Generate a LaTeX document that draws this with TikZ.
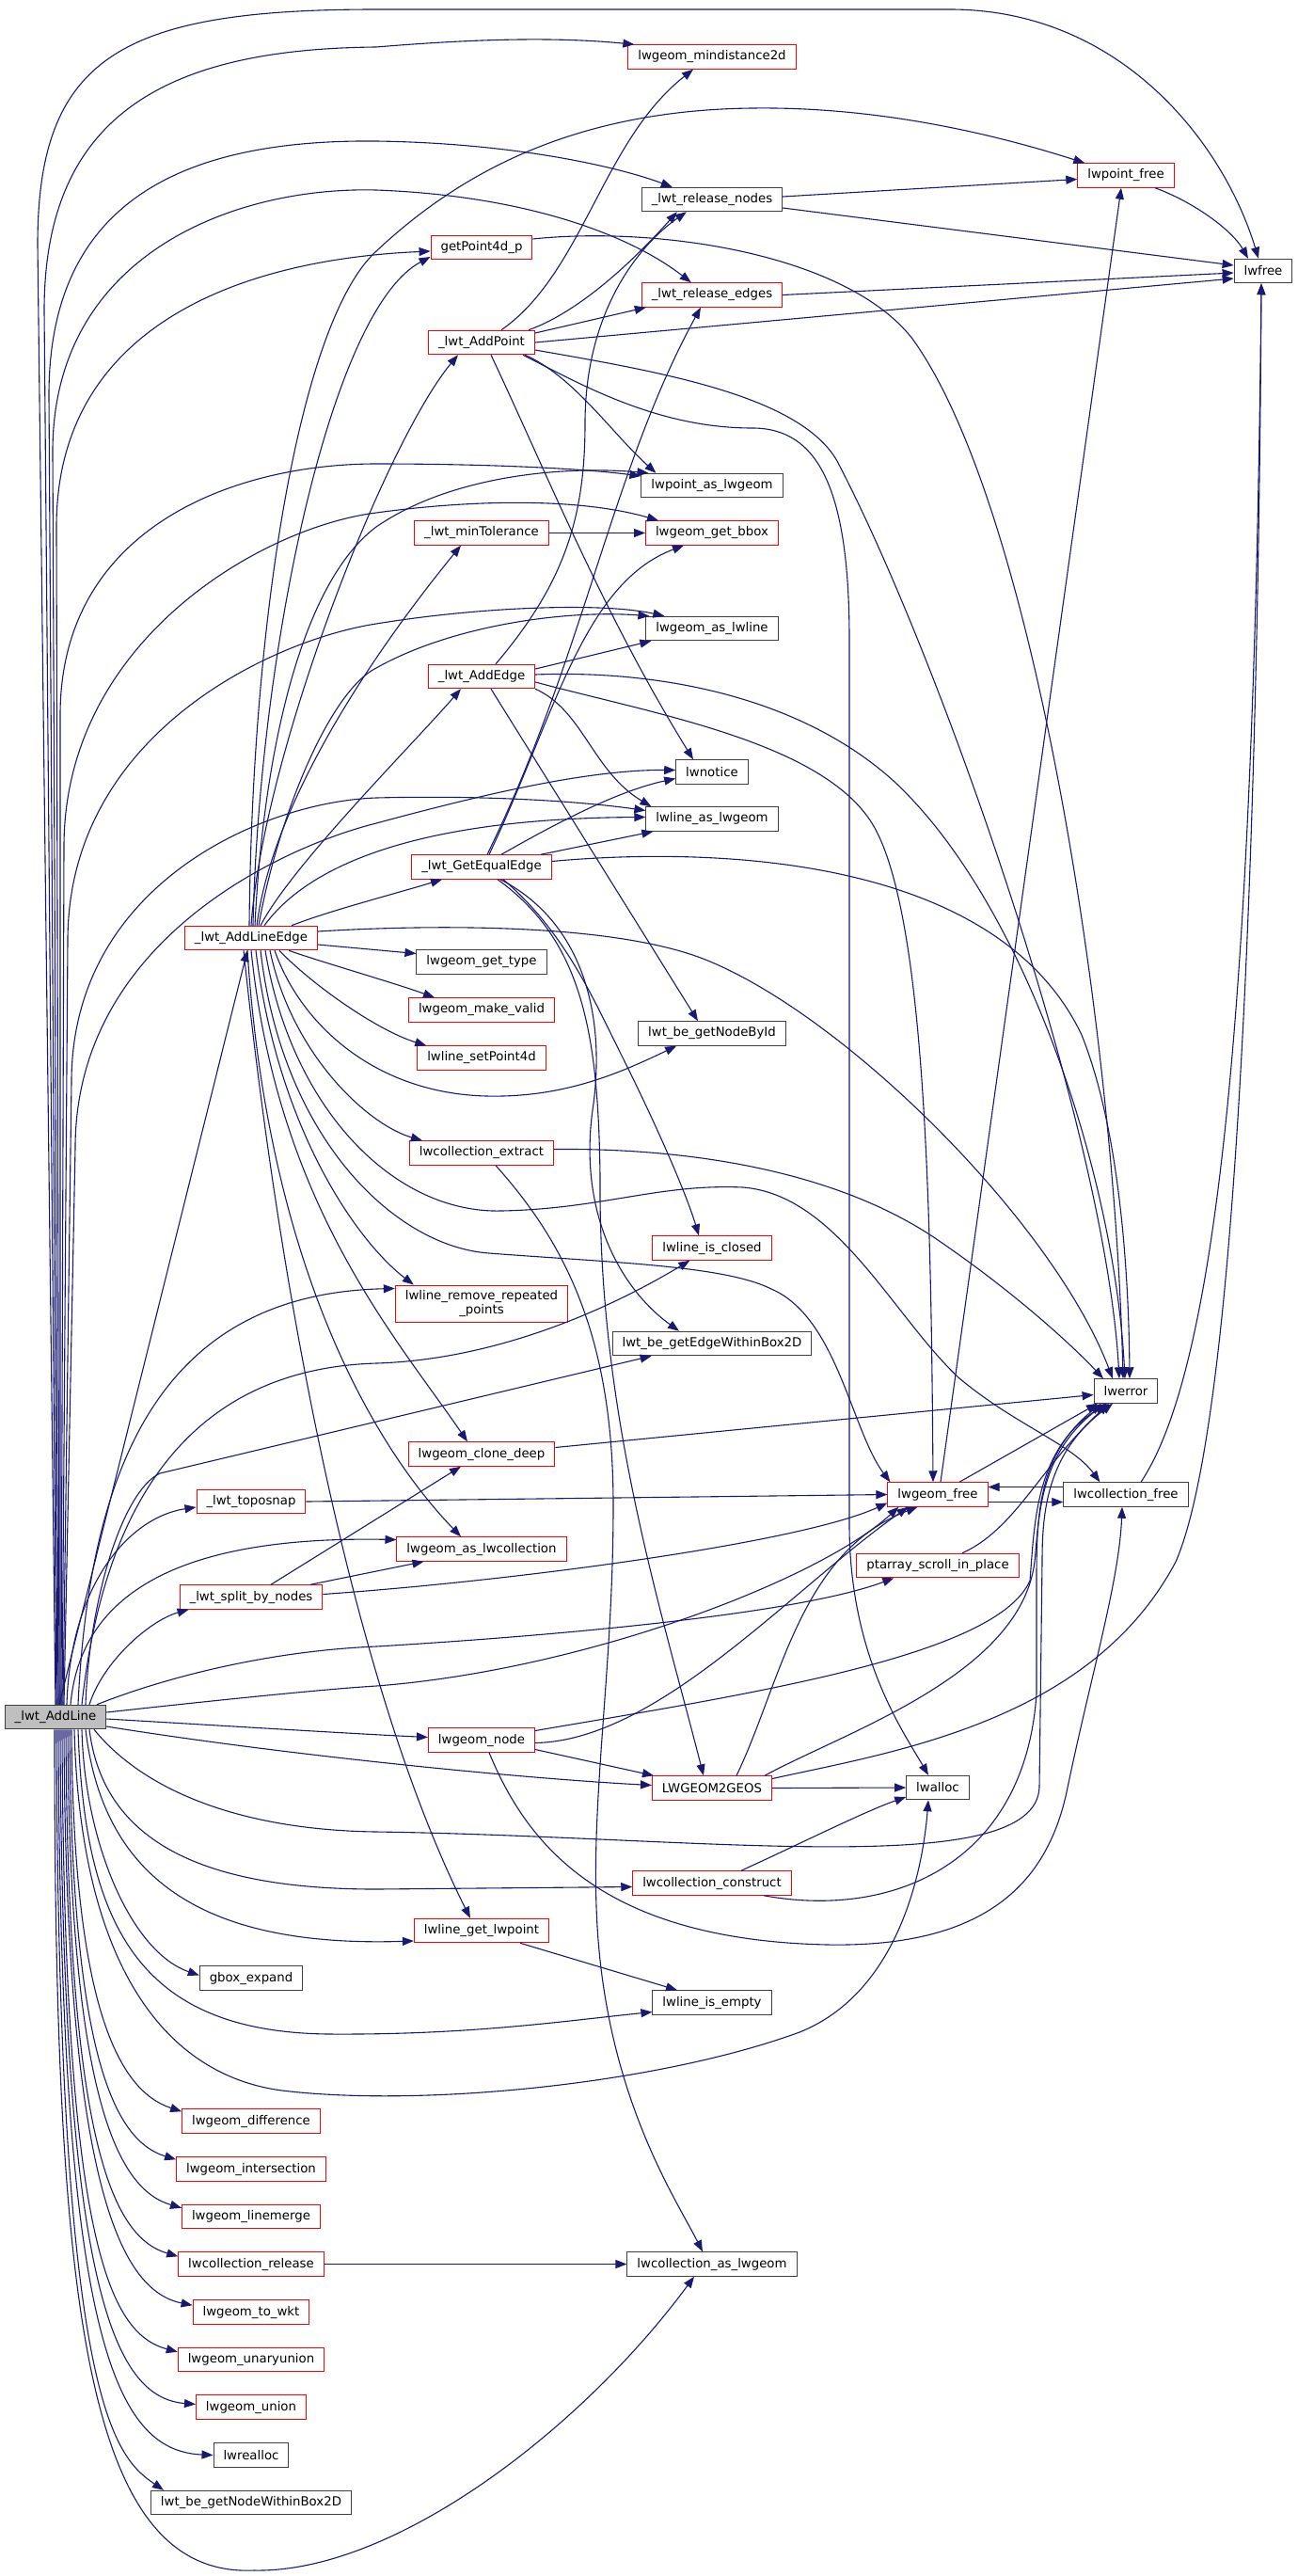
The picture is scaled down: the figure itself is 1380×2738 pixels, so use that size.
\documentclass[tikz,border=0pt]{standalone}
\usepackage{fontspec}
\setmainfont{DejaVu Sans}
\usetikzlibrary{arrows.meta}
\definecolor{edgeblue}{HTML}{191970}
\definecolor{boxred}{HTML}{FF0000}
\definecolor{boxgrey}{HTML}{404040}
\definecolor{rootfill}{HTML}{BFBFBF}

\begin{document}
\begin{tikzpicture}[
            x=1pt, y=-1pt,
            block/.style={rectangle, draw=boxgrey, fill=white, line width=1pt, inner xsep=10.5pt, inner ysep=0pt, minimum height=25.5pt, font=\fontsize{13.3}{15.5}\selectfont},
            redblock/.style={block, draw=boxred},
            rootblock/.style={block, fill=rootfill},
            arrow/.style={-{Triangle[length=12pt, width=9pt]}, draw=edgeblue, line width=1.1pt}
        ]
        \useasboundingbox (0,0) rectangle (1380,2738);

        % Define the calling function and the functions it calls
        \node[rootblock] (addline) at (59,1825) {\_lwt\_AddLine};

        \node[redblock] (addlineedge) at (267,997) {\_lwt\_AddLineEdge};
        \node[redblock] (toposnap) at (267,1596) {\_lwt\_toposnap};
        \node[redblock] (splitnodes) at (267,1697.5) {\_lwt\_split\_by\_nodes};
        \node[block] (gboxexpand) at (267,2102.5) {gbox\_expand};
        \node[redblock] (difference) at (267,2254.5) {lwgeom\_difference};
        \node[redblock] (intersection) at (267,2305.5) {lwgeom\_intersection};
        \node[redblock] (linemerge) at (267,2356) {lwgeom\_linemerge};
        \node[redblock] (collrelease) at (267,2406.5) {lwcollection\_release};
        \node[redblock] (towkt) at (267,2457.5) {lwgeom\_to\_wkt};
        \node[redblock] (unaryunion) at (267,2508) {lwgeom\_unaryunion};
        \node[redblock] (geomunion) at (267,2558.5) {lwgeom\_union};
        \node[block] (lwrealloc) at (267,2609.5) {lwrealloc};
        \node[block] (nodewithin) at (267,2660) {lwt\_be\_getNodeWithinBox2D};

        \node[redblock] (getpoint) at (512,263) {getPoint4d\_p};
        \node[redblock] (addpoint) at (512,364) {\_lwt\_AddPoint};
        \node[redblock] (mintol) at (512,566.5) {\_lwt\_minTolerance};
        \node[redblock] (addedge) at (512,719) {\_lwt\_AddEdge};
        \node[redblock] (getequal) at (512,921.5) {\_lwt\_GetEqualEdge};
        \node[block] (geomtype) at (512,1022.5) {lwgeom\_get\_type};
        \node[redblock] (makevalid) at (512,1073.5) {lwgeom\_make\_valid};
        \node[redblock] (setpoint) at (512,1124.5) {lwline\_setPoint4d};
        \node[redblock] (collextract) at (512,1225.5) {lwcollection\_extract};
        \node[redblock, align=center, minimum height=39pt] (remrepeated) at (512,1385.5) {lwline\_remove\_repeated\\\_points};
        \node[redblock] (clonedeep) at (512,1545.5) {lwgeom\_clone\_deep};
        \node[redblock] (aslwcoll) at (512,1646.5) {lwgeom\_as\_lwcollection};
        \node[redblock] (geomnode) at (512,1849.5) {lwgeom\_node};
        \node[redblock] (getlwpoint) at (512,2052) {lwline\_get\_lwpoint};

        \node[redblock] (mindist) at (757,60.5) {lwgeom\_mindistance2d};
        \node[block] (relnodes) at (757,212) {\_lwt\_release\_nodes};
        \node[redblock] (reledges) at (757,313.5) {\_lwt\_release\_edges};
        \node[block] (ptaslwgeom) at (757,516) {lwpoint\_as\_lwgeom};
        \node[redblock] (getbbox) at (757,566.5) {lwgeom\_get\_bbox};
        \node[block] (aslwline) at (757,668) {lwgeom\_as\_lwline};
        \node[block] (lwnotice) at (757,820.5) {lwnotice};
        \node[block] (lineaslwgeom) at (757,870.5) {lwline\_as\_lwgeom};
        \node[block] (nodebyid) at (757,1098.5) {lwt\_be\_getNodeById};
        \node[redblock] (lineclosed) at (757,1326.5) {lwline\_is\_closed};
        \node[block] (edgewithin) at (757,1428) {lwt\_be\_getEdgeWithinBox2D};
        \node[redblock] (lwgeos) at (757,1900.5) {LWGEOM2GEOS};
        \node[redblock] (collconstruct) at (757,2001.5) {lwcollection\_construct};
        \node[block] (lineempty) at (757,2128.5) {lwline\_is\_empty};
        \node[block] (collaslwgeom) at (757,2406.5) {lwcollection\_as\_lwgeom};

        \node[redblock] (geomfree) at (997,1588.5) {lwgeom\_free};
        \node[redblock] (ptscroll) at (997,1664) {ptarray\_scroll\_in\_place};
        \node[block] (lwalloc) at (997,1900) {lwalloc};

        \node[redblock] (ptfree) at (1197,186.5) {lwpoint\_free};
        \node[block] (lwerror) at (1197,1478.5) {lwerror};
        \node[block] (collfree) at (1197,1588.5) {lwcollection\_free};

        \node[block] (lwfree) at (1343,288) {lwfree};

        % Draw the calls of _lwt_AddLine
        \draw[arrow] (addline.north) -- (40,260) .. controls (40,60) and (130,10) .. (400,10) -- (1010,10) .. controls (1190,10) and (1300,150) .. ([xshift=-5pt]lwfree.north);
        \draw[arrow] ([xshift=1pt]addline.north) -- (47,330) .. controls (47,120) and (180,52) .. (400,50) .. controls (520,40) and (600,40) .. ([xshift=7pt]mindist.north west);
        \draw[arrow] ([xshift=2pt]addline.north) -- (52,420) .. controls (52,210) and (200,148) .. (400,150) .. controls (540,152) and (650,175) .. ([xshift=33pt]relnodes.north west);
        \draw[arrow] ([xshift=3pt]addline.north) -- (56,480) .. controls (56,270) and (250,198) .. (400,202) .. controls (560,208) and (670,250) .. ([xshift=53pt]reledges.north west);
        \draw[arrow] ([xshift=4pt]addline.north) -- (60,560) .. controls (60,350) and (250,276) .. ([yshift=-4pt]getpoint.west);
        \draw[arrow] ([xshift=5pt]addline.north) -- (64,760) .. controls (64,560) and (250,493) .. (400,493) .. controls (520,493) and (620,498) .. ([yshift=10pt]ptaslwgeom.west);
        \draw[arrow] ([xshift=6pt]addline.north) -- (68,900) .. controls (68,680) and (280,560) .. (400,545) .. controls (510,530) and (620,530) .. ([xshift=14pt]getbbox.north west);
        \draw[arrow] ([xshift=7pt]addline.north) -- (72,1000) .. controls (72,780) and (290,680) .. (400,663) .. controls (510,645) and (640,640) .. ([xshift=20pt]aslwline.north west);
        \draw[arrow] ([xshift=8pt]addline.north) -- (76,1150) .. controls (76,940) and (280,852) .. (400,848) .. controls (520,845) and (620,852) .. ([yshift=9pt]lineaslwgeom.west);
        \draw[arrow] ([xshift=9pt]addline.north) -- (80,1220) .. controls (80,1000) and (300,900) .. (400,875) .. controls (500,848) and (620,818) .. ([yshift=2pt]lwnotice.west);
        \draw[arrow] ([xshift=4pt]addline.north) -- ([xshift=-4pt]addlineedge.south);
        \draw[arrow] ([xshift=24pt]addline.north) .. controls (95,1560) and (170,1375) .. ([yshift=16pt]remrepeated.west);
        \draw[arrow] ([xshift=28pt]addline.north) .. controls (110,1600) and (200,1455) .. (400,1449) .. controls (530,1445) and (650,1390) .. ([xshift=40pt]lineclosed.south west);
        \draw[arrow] ([xshift=32pt]addline.north) .. controls (95,1700) and (130,1585) .. (170,1566) -- ([xshift=42pt]edgewithin.south west);
        \draw[arrow] ([xshift=12pt]addline.north) .. controls (75,1680) and (140,1612) .. ([yshift=-6pt]toposnap.west);
        \draw[arrow] ([xshift=16pt]addline.north) .. controls (85,1700) and (180,1632) .. ([yshift=10pt]aslwcoll.west);
        \draw[arrow] ([xshift=36pt]addline.north) .. controls (110,1765) and (160,1722) .. ([xshift=10pt]splitnodes.south west);
        \draw[arrow] ([xshift=44pt]addline.north) .. controls (170,1785) and (280,1755) .. (400,1750) .. controls (600,1738) and (850,1715) .. ([xshift=40pt]ptscroll.south west);
        \draw[arrow] ([yshift=5pt]addline.east) .. controls (250,1805) and (350,1795) .. (400,1792) .. controls (620,1775) and (870,1680) .. ([xshift=12pt]geomfree.south west);
        \draw[arrow] ([yshift=-2pt]addline.east) .. controls (250,1835) and (380,1843) .. ([yshift=3pt]geomnode.west);
        \draw[arrow] ([yshift=-10pt]addline.east) .. controls (300,1865) and (550,1890) .. ([yshift=3pt]lwgeos.west);
        \draw[arrow] ([xshift=41pt]addline.south) .. controls (150,1900) and (250,1945) .. (400,1947) .. controls (750,1952) and (1100,2000) .. (1105,1900) -- (1108,1660) .. controls (1108,1610) and (1112,1545) .. ([xshift=-14pt]lwerror.south);
        \draw[arrow] ([xshift=36pt]addline.south) .. controls (110,1960) and (220,2008) .. (400,2008) -- ([yshift=-4pt]collconstruct.west);
        \draw[arrow] ([xshift=32pt]addline.south) .. controls (110,2000) and (220,2070) .. ([yshift=-11pt]getlwpoint.west);
        \draw[arrow] ([xshift=28pt]addline.south) .. controls (90,1960) and (140,2075) .. ([yshift=3pt]gboxexpand.west);
        \draw[arrow] ([xshift=24pt]addline.south) .. controls (90,2050) and (150,2160) .. (350,2162) .. controls (500,2163) and (600,2148) .. ([yshift=-10pt]lineempty.west);
        \draw[arrow] ([xshift=20pt]addline.south) .. controls (85,2080) and (170,2205) .. (300,2222) .. controls (450,2240) and (700,2215) .. (850,2160) .. controls (950,2120) and (980,2000) .. ([xshift=-10pt]lwalloc.south);
        \draw[arrow] ([xshift=17pt]addline.south) .. controls (78,2130) and (125,2222) .. ([yshift=-3pt]difference.north west);
        \draw[arrow] ([xshift=15pt]addline.south) .. controls (76,2180) and (120,2275) .. ([yshift=-3pt]intersection.north west);
        \draw[arrow] ([xshift=13pt]addline.south) .. controls (74,2230) and (125,2327) .. ([yshift=-4pt]linemerge.north west);
        \draw[arrow] ([xshift=11pt]addline.south) .. controls (72,2280) and (120,2378) .. ([yshift=-5pt]collrelease.north west);
        \draw[arrow] ([xshift=9pt]addline.south) .. controls (70,2330) and (130,2435) .. ([yshift=-6pt]towkt.north west);
        \draw[arrow] ([xshift=7pt]addline.south) .. controls (68,2380) and (115,2480) .. ([yshift=-5pt]unaryunion.north west);
        \draw[arrow] ([xshift=5pt]addline.south) .. controls (66,2430) and (120,2548) .. ([yshift=3pt]geomunion.west);
        \draw[arrow] ([xshift=3pt]addline.south) .. controls (64,2480) and (120,2605) .. (lwrealloc.west);
        \draw[arrow] ([xshift=1pt]addline.south) .. controls (62,2550) and (120,2610) .. ([xshift=14pt]nodewithin.north west);
        \draw[arrow] ([xshift=-1pt]addline.south) .. controls (58,2450) and (90,2740) .. (270,2732) .. controls (420,2735) and (620,2580) .. ([xshift=-19pt]collaslwgeom.south);

        % Draw the calls of _lwt_AddLineEdge
        \draw[arrow] ([xshift=2pt]addlineedge.north) .. controls (275,700) and (350,330) .. ([yshift=-10pt]getpoint.west);
        \draw[arrow] (addlineedge.north) .. controls (280,800) and (410,470) .. ([xshift=-25pt]addpoint.south);
        \draw[arrow] ([xshift=-2pt]addlineedge.north) .. controls (268,650) and (320,340) .. (400,267) .. controls (480,192) and (600,117) .. (800,115) .. controls (950,113) and (1080,150) .. ([xshift=8pt]ptfree.north west);
        \draw[arrow] ([xshift=4pt]addlineedge.north) .. controls (280,800) and (320,620) .. (400,560) .. controls (480,505) and (600,495) .. ([xshift=8pt]ptaslwgeom.north west);
        \draw[arrow] ([xshift=6pt]addlineedge.north) .. controls (290,850) and (400,690) .. ([xshift=-22pt]mintol.south);
        \draw[arrow] ([xshift=8pt]addlineedge.north) .. controls (295,870) and (350,735) .. (400,710) .. controls (480,665) and (600,648) .. ([xshift=4pt]aslwline.north west);
        \draw[arrow] ([xshift=10pt]addlineedge.north) .. controls (310,920) and (440,790) .. ([xshift=-22pt]addedge.south);
        \draw[arrow] ([xshift=14pt]addlineedge.north) .. controls (320,930) and (420,870) .. ([yshift=2pt]lineaslwgeom.west);
        \draw[arrow] ([xshift=43pt]addlineedge.north) .. controls (350,968) and (420,950) .. ([xshift=-42pt]getequal.south);
        \draw[arrow] ([yshift=-7pt]addlineedge.east) -- ([yshift=9pt]geomtype.west);
        \draw[arrow] ([xshift=40pt]addlineedge.south) .. controls (340,1022) and (420,1045) .. ([xshift=28pt]makevalid.north west);
        \draw[arrow] ([xshift=30pt]addlineedge.south) .. controls (330,1045) and (400,1095) .. ([xshift=10pt]setpoint.north west);
        \draw[arrow] ([xshift=25pt]addlineedge.south) .. controls (320,1090) and (400,1162) .. (517,1165) .. controls (600,1167) and (660,1140) .. ([xshift=41pt]nodebyid.south west);
        \draw[arrow] ([xshift=20pt]addlineedge.south) .. controls (310,1120) and (390,1195) .. ([xshift=14pt]collextract.north west);
        \draw[arrow] ([xshift=15pt]addlineedge.south) .. controls (310,1180) and (420,1290) .. (533,1287) .. controls (640,1285) and (700,1258) .. (790,1262) .. controls (890,1270) and (950,1400) .. (1020,1465) .. controls (1080,1515) and (1140,1535) .. ([xshift=39pt]collfree.north west);
        \draw[arrow] ([xshift=10pt]addlineedge.south) .. controls (300,1210) and (420,1325) .. (520,1332) .. controls (650,1342) and (770,1345) .. (820,1370) .. controls (890,1400) and (905,1520) .. ([xshift=3pt]geomfree.north west);
        \draw[arrow] ([xshift=5pt]addlineedge.south) .. controls (295,1200) and (380,1320) .. ([xshift=20pt]remrepeated.north west);
        \draw[arrow] (addlineedge.south) .. controls (295,1280) and (420,1420) .. ([xshift=-15pt]clonedeep.north);
        \draw[arrow] ([xshift=-4pt]addlineedge.south) .. controls (285,1350) and (400,1540) .. ([xshift=-22pt]aslwcoll.north);
        \draw[arrow] ([xshift=-8pt]addlineedge.south) .. controls (300,1400) and (380,1800) .. ([xshift=-12pt]getlwpoint.north);
        \draw[arrow] ([yshift=7pt]addlineedge.east) .. controls (450,983) and (650,980) .. (750,1020) .. controls (900,1080) and (1120,1300) .. ([xshift=-14pt]lwerror.north);

        % Draw the calls of the second level
        \draw[arrow] ([xshift=21pt]addpoint.north) .. controls (620,290) and (640,150) .. ([xshift=-20pt]mindist.south);
        \draw[arrow] ([xshift=50pt]addpoint.north) .. controls (620,330) and (680,270) .. ([xshift=38pt]relnodes.south west);
        \draw[arrow] ([yshift=10pt]addpoint.east) -- ([xshift=5pt]reledges.south west);
        \draw[arrow] (addpoint.east) -- ([yshift=-8pt]lwfree.west);
        \draw[arrow] ([yshift=-8pt]addpoint.east) .. controls (700,395) and (850,420) .. (890,490) .. controls (1000,700) and (1175,1200) .. ([xshift=-7pt]lwerror.north);
        \draw[arrow] ([xshift=46pt]addpoint.south) .. controls (610,400) and (650,460) .. ([xshift=16pt]ptaslwgeom.north west);
        \draw[arrow] ([xshift=10pt]addpoint.south) .. controls (580,500) and (640,650) .. ([xshift=-20pt]lwnotice.north);
        \draw[arrow] ([xshift=44pt]addpoint.south) .. controls (620,410) and (700,455) .. (800,455) .. controls (870,455) and (903,520) .. (903,680) -- (903,1620) .. controls (903,1760) and (960,1840) .. ([xshift=-10pt]lwalloc.north);

        \draw[arrow] ([xshift=15pt]addedge.north) .. controls (600,620) and (622,550) .. (622,450) .. controls (622,330) and (680,260) .. ([xshift=48pt]relnodes.south west);
        \draw[arrow] ([yshift=8pt]addedge.east) -- ([xshift=6pt]aslwline.south west);
        \draw[arrow] ([yshift=2pt]addedge.east) .. controls (700,712) and (850,740) .. (950,830) .. controls (1090,960) and (1185,1250) .. ([xshift=-1pt]lwerror.north);
        \draw[arrow] ([yshift=-6pt]addedge.east) .. controls (700,760) and (880,790) .. (930,880) .. controls (985,980) and (990,1300) .. ([xshift=-5pt]geomfree.north);
        \draw[arrow] (addedge.south east) .. controls (620,755) and (630,820) .. ([xshift=6pt]lineaslwgeom.north west);
        \draw[arrow] ([xshift=10pt]addedge.south) -- ([xshift=-15pt]nodebyid.north);

        \draw[arrow] ([xshift=8pt]getequal.north) .. controls (590,760) and (620,620) .. ([xshift=-30pt]getbbox.south);
        \draw[arrow] ([xshift=6pt]getequal.north) .. controls (620,700) and (650,500) .. ([xshift=-12pt]reledges.south);
        \draw[arrow] ([xshift=21pt]getequal.north) .. controls (600,870) and (660,840) .. ([yshift=-7pt]lwnotice.west);
        \draw[arrow] ([xshift=63pt]getequal.north) -- ([xshift=8pt]lineaslwgeom.south west);
        \draw[arrow] ([yshift=6pt]getequal.east) .. controls (700,905) and (1050,890) .. (1150,1100) .. controls (1190,1200) and (1200,1350) .. ([xshift=4pt]lwerror.north);
        \draw[arrow] ([xshift=23pt]getequal.south) .. controls (600,990) and (630,1060) .. (660,1120) .. controls (700,1200) and (730,1270) .. ([xshift=-14pt]lineclosed.north);
        \draw[arrow] ([xshift=20pt]getequal.south) .. controls (620,980) and (645,1080) .. (630,1180) .. controls (615,1290) and (660,1370) .. ([xshift=-35pt]edgewithin.north);
        \draw[arrow] ([xshift=17pt]getequal.south) .. controls (620,1000) and (636,1100) .. (638,1250) .. controls (636,1500) and (700,1700) .. ([xshift=-9pt]lwgeos.north);

        \draw[arrow] ([yshift=4pt]collextract.east) .. controls (750,1220) and (900,1250) .. (1000,1320) .. controls (1080,1375) and (1140,1430) .. ([xshift=-24pt]lwerror.north);
        \draw[arrow] ([xshift=15pt]collextract.south) .. controls (600,1320) and (652,1420) .. (652,1600) .. controls (652,1800) and (620,1950) .. (640,2100) .. controls (660,2250) and (720,2340) .. ([xshift=-10pt]collaslwgeom.north);

        \draw[arrow] (mintol.east) -- (getbbox.west);
        \draw[arrow] ([yshift=9pt]getpoint.east) .. controls (700,240) and (900,270) .. (970,360) .. controls (1100,540) and (1185,1100) .. ([xshift=-3pt]lwerror.north);
        \draw[arrow] ([yshift=7pt]clonedeep.east) -- ([yshift=-4pt]lwerror.west);
        \draw[arrow] (toposnap.east) -- (geomfree.west);
        \draw[arrow] ([xshift=21pt]splitnodes.north) -- ([xshift=-22pt]clonedeep.south);
        \draw[arrow] ([xshift=63pt]splitnodes.north) -- ([xshift=29pt]aslwcoll.south west);
        \draw[arrow] ([yshift=3pt]splitnodes.east) .. controls (550,1680) and (850,1640) .. ([yshift=-9pt]geomfree.west);

        \draw[arrow] ([yshift=10pt]geomnode.east) .. controls (800,1800) and (1060,1760) .. (1095,1680) .. controls (1100,1620) and (1100,1540) .. ([xshift=-20pt]lwerror.south);
        \draw[arrow] ([yshift=-3pt]geomnode.east) .. controls (700,1850) and (840,1690) .. ([xshift=22pt]geomfree.south west);
        \draw[arrow] ([yshift=-10pt]geomnode.east) -- ([xshift=2pt]lwgeos.north west);
        \draw[arrow] ([xshift=8pt]geomnode.south) .. controls (560,1960) and (640,2062) .. (880,2067) .. controls (1050,2070) and (1115,2000) .. (1135,1900) .. controls (1160,1780) and (1190,1680) .. ([xshift=-4pt]collfree.south);

        \draw[arrow] ([xshift=26pt]lwgeos.north) .. controls (830,1790) and (850,1650) .. ([xshift=32pt]geomfree.south west);
        \draw[arrow] ([xshift=56pt]lwgeos.north) .. controls (900,1840) and (1085,1780) .. (1100,1660) .. controls (1105,1610) and (1105,1545) .. ([xshift=-22pt]lwerror.south);
        \draw[arrow] ([yshift=10pt]lwgeos.east) .. controls (950,1862) and (1160,1830) .. (1250,1660) .. controls (1320,1500) and (1338,800) .. ([xshift=-2pt]lwfree.south);
        \draw[arrow] (lwgeos.east) -- (lwalloc.west);

        \draw[arrow] ([xshift=31pt]collconstruct.north) .. controls (850,1960) and (920,1925) .. ([yshift=-10pt]lwalloc.west);
        \draw[arrow] ([xshift=55pt]collconstruct.south) .. controls (950,2040) and (1090,1980) .. (1102,1800) -- (1102,1680) .. controls (1102,1610) and (1104,1545) .. ([xshift=-26pt]lwerror.south);
        \draw[arrow] ([xshift=41pt]getlwpoint.south) -- ([xshift=-37pt]lineempty.north);
        \draw[arrow] (collrelease.east) -- (collaslwgeom.west);

        % Draw the calls of the last levels
        \draw[arrow] ([yshift=3pt]relnodes.east) -- ([yshift=-4pt]ptfree.west);
        \draw[arrow] ([yshift=-9pt]relnodes.east) -- ([yshift=6pt]lwfree.west);
        \draw[arrow] (reledges.east) -- ([yshift=-2pt]lwfree.west);
        \draw[arrow] ([xshift=31pt]ptfree.south) .. controls (1270,215) and (1310,245) .. ([xshift=-16pt]lwfree.north);
        \draw[arrow] ([xshift=3pt]geomfree.north) -- ([xshift=-5pt]ptfree.south);
        \draw[arrow] ([xshift=23pt]geomfree.north) -- ([xshift=-30pt]lwerror.south);
        \draw[arrow] ([yshift=-8pt]geomfree.east) -- ([yshift=-8pt]collfree.west);
        \draw[arrow] ([yshift=8pt]collfree.west) -- ([yshift=8pt]geomfree.east);
        \draw[arrow] ([xshift=16pt]collfree.north) .. controls (1290,1460) and (1333,1100) .. ([xshift=-2pt]lwfree.south);
        \draw[arrow] ([xshift=26pt]ptscroll.north) .. controls (1080,1625) and (1105,1560) .. ([xshift=-18pt]lwerror.south);
    \end{tikzpicture}
\end{document}
